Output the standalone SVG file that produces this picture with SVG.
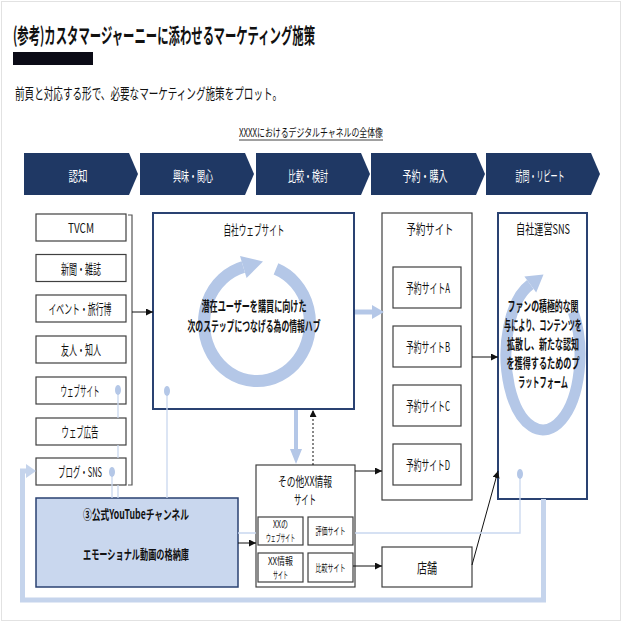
<svg xmlns="http://www.w3.org/2000/svg" width="623" height="623" viewBox="0 0 623 623">
<defs>
<style>
.t{font-family:"Noto Sans CJK JP","Noto Sans",sans-serif;fill:#111;}
.c{text-anchor:middle;}
.b{font-weight:700;}
.w{fill:#fff;}
.chev{fill:#1f3864;}
.gbox{fill:#fff;stroke:#404040;stroke-width:1.2;}
.nbox{fill:#fff;stroke:#2a4272;stroke-width:2;}
.ring{fill:none;stroke:#b4c7e7;}
.lb{fill:#b4c7e7;}
.thin{fill:none;stroke:#c9d7ef;stroke-width:1.3;}
.ar{fill:none;stroke:#111;stroke-width:1;marker-end:url(#ah);}
.thick{fill:none;stroke:#c5d4ec;}
</style>
<marker id="ah" markerUnits="userSpaceOnUse" markerWidth="7" markerHeight="7" refX="7" refY="3.5" orient="auto">
<path d="M0,0 L7,3.5 L0,7 z" fill="#111"/>
</marker>
</defs>
<rect x="1.5" y="1.5" width="619" height="619" fill="#fff" stroke="#e2e2e2" stroke-width="1"/>

<g id="header">
<text class="t b" x="13" y="43" font-size="21" textLength="302" lengthAdjust="spacingAndGlyphs">(参考)カスタマージャーニーに添わせるマーケティング施策</text>
<rect x="13" y="52" width="80" height="13" fill="#0b0b16"/>
<text class="t" x="15" y="99" font-size="15" textLength="267" lengthAdjust="spacingAndGlyphs">前頁と対応する形で、必要なマーケティング施策をプロット。</text>
<text class="t" x="239" y="137" font-size="11.5" textLength="144" lengthAdjust="spacingAndGlyphs">XXXXにおけるデジタルチャネルの全体像</text>
<line x1="239" y1="140" x2="383" y2="140" stroke="#111" stroke-width="0.8"/>
</g>

<g id="stages">
<polygon class="chev" points="24,153 129,153 138,174 129,195 24,195"/>
<text class="t c w" x="78" y="181" font-size="13.5" textLength="19" lengthAdjust="spacingAndGlyphs">認知</text>
<polygon class="chev" points="140,153 245,153 254,174 245,195 140,195"/>
<text class="t c w" x="193" y="181" font-size="13.5" textLength="40" lengthAdjust="spacingAndGlyphs">興味・関心</text>
<polygon class="chev" points="256,153 361,153 370,174 361,195 256,195"/>
<text class="t c w" x="308" y="181" font-size="13.5" textLength="40" lengthAdjust="spacingAndGlyphs">比較・検討</text>
<polygon class="chev" points="371,153 476,153 485,174 476,195 371,195"/>
<text class="t c w" x="425" y="181" font-size="13.5" textLength="45" lengthAdjust="spacingAndGlyphs">予約・購入</text>
<polygon class="chev" points="486,153 591,153 600,174 591,195 486,195"/>
<text class="t c w" x="540" y="181" font-size="13.5" textLength="49" lengthAdjust="spacingAndGlyphs">訪問・リピート</text>
</g>

<g id="media">
<rect class="gbox" x="36" y="214" width="90" height="27"/>
<text class="t c" x="81" y="233" font-size="13.5" textLength="26" lengthAdjust="spacingAndGlyphs">TVCM</text>
<rect class="gbox" x="36" y="254.5" width="90" height="27"/>
<text class="t c" x="81" y="273.5" font-size="13.5" textLength="40" lengthAdjust="spacingAndGlyphs">新聞・雑誌</text>
<rect class="gbox" x="36" y="295" width="90" height="27"/>
<text class="t c" x="80" y="314" font-size="13.5" textLength="63" lengthAdjust="spacingAndGlyphs">イベント・旅行博</text>
<rect class="gbox" x="36" y="336" width="90" height="27"/>
<text class="t c" x="81" y="355" font-size="13.5" textLength="40" lengthAdjust="spacingAndGlyphs">友人・知人</text>
<rect class="gbox" x="36" y="377" width="90" height="27"/>
<text class="t c" x="80" y="396" font-size="13.5" textLength="39" lengthAdjust="spacingAndGlyphs">ウェブサイト</text>
<rect class="gbox" x="36" y="418" width="90" height="27"/>
<text class="t c" x="80" y="437" font-size="13.5" textLength="37" lengthAdjust="spacingAndGlyphs">ウェブ広告</text>
<rect class="gbox" x="36" y="458" width="90" height="27"/>
<text class="t c" x="80" y="477" font-size="13.5" textLength="44" lengthAdjust="spacingAndGlyphs">ブログ・SNS</text>
<path d="M128,215 H132 V485 H128" fill="none" stroke="#555" stroke-width="1.2"/>
</g>

<g id="own-website">
<rect class="nbox" x="153" y="213" width="201" height="196"/>
<text class="t c" x="254" y="235" font-size="13.5" textLength="61" lengthAdjust="spacingAndGlyphs">自社ウェブサイト</text>
<path class="ring" stroke-width="12" d="M276,268.9 A53,58 0 1 1 243.3,267"/>
<polygon class="lb" points="246.6,278 240,256 263,261.5"/>
<text class="t c b" x="254" y="311" font-size="13.5" textLength="105" lengthAdjust="spacingAndGlyphs">潜在ユーザーを購買に向けた</text>
<text class="t c b" x="254" y="331" font-size="13.5" textLength="133" lengthAdjust="spacingAndGlyphs">次のステップにつなげる為の情報ハブ</text>
</g>

<g id="booking">
<rect class="gbox" x="382" y="213" width="90" height="287"/>
<text class="t c" x="430" y="234" font-size="13.5" textLength="47" lengthAdjust="spacingAndGlyphs">予約サイト</text>
<rect class="gbox" x="393" y="267" width="68" height="41"/>
<text class="t c" x="428" y="293" font-size="13.5" textLength="44" lengthAdjust="spacingAndGlyphs">予約サイトA</text>
<rect class="gbox" x="393" y="326" width="68" height="41"/>
<text class="t c" x="428" y="352" font-size="13.5" textLength="44" lengthAdjust="spacingAndGlyphs">予約サイトB</text>
<rect class="gbox" x="393" y="385" width="68" height="41"/>
<text class="t c" x="428" y="411" font-size="13.5" textLength="44" lengthAdjust="spacingAndGlyphs">予約サイトC</text>
<rect class="gbox" x="393" y="444" width="68" height="41"/>
<text class="t c" x="428" y="470" font-size="13.5" textLength="44" lengthAdjust="spacingAndGlyphs">予約サイトD</text>
</g>

<g id="own-sns">
<rect class="nbox" x="498" y="213" width="89" height="286"/>
<text class="t c" x="543" y="234" font-size="13.5" textLength="54" lengthAdjust="spacingAndGlyphs">自社運営SNS</text>
<path class="ring" stroke-width="11" d="M573.3,312 A37,75 0 1 1 530.3,284.5"/>
<polygon class="lb" points="536.2,292.5 524.4,276.5 543.5,274.5"/>
<text class="t c b" x="543" y="311" font-size="13.5" textLength="71" lengthAdjust="spacingAndGlyphs">ファンの積極的な関</text>
<text class="t c b" x="543" y="330" font-size="13.5" textLength="78" lengthAdjust="spacingAndGlyphs">与により、コンテンツを</text>
<text class="t c b" x="543" y="349" font-size="13.5" textLength="72" lengthAdjust="spacingAndGlyphs">拡散し、新たな認知</text>
<text class="t c b" x="543" y="368" font-size="13.5" textLength="73" lengthAdjust="spacingAndGlyphs">を獲得するためのプ</text>
<text class="t c b" x="543" y="387" font-size="13.5" textLength="50" lengthAdjust="spacingAndGlyphs">ラットフォーム</text>
</g>

<g id="other-sites">
<rect class="gbox" x="256" y="465" width="99" height="122"/>
<text class="t c" x="305" y="486" font-size="13" textLength="54" lengthAdjust="spacingAndGlyphs">その他XX情報</text>
<text class="t c" x="305" y="504" font-size="13" textLength="22" lengthAdjust="spacingAndGlyphs">サイト</text>
<rect class="gbox" x="258" y="517" width="45" height="28"/>
<text class="t c" x="280.5" y="528" font-size="10" textLength="15" lengthAdjust="spacingAndGlyphs">XXの</text>
<text class="t c" x="280.5" y="541.5" font-size="10" textLength="29" lengthAdjust="spacingAndGlyphs">ウェブサイト</text>
<rect class="gbox" x="308" y="517" width="45" height="28"/>
<text class="t c" x="330.5" y="535" font-size="10" textLength="30" lengthAdjust="spacingAndGlyphs">評価サイト</text>
<rect class="gbox" x="258" y="553" width="45" height="29"/>
<text class="t c" x="280.5" y="565" font-size="10" textLength="25" lengthAdjust="spacingAndGlyphs">XX情報</text>
<text class="t c" x="280.5" y="578.5" font-size="10" textLength="15" lengthAdjust="spacingAndGlyphs">サイト</text>
<rect class="gbox" x="308" y="553" width="45" height="29"/>
<text class="t c" x="330.5" y="571.5" font-size="10" textLength="30" lengthAdjust="spacingAndGlyphs">比較サイト</text>
</g>

<g id="store">
<rect class="gbox" x="382" y="547" width="90" height="40"/>
<text class="t c" x="427" y="573" font-size="13.5" textLength="20" lengthAdjust="spacingAndGlyphs">店舗</text>
</g>

<g id="youtube">
<rect x="36" y="498" width="202" height="89" fill="#c9d7ee" stroke="#2a4272" stroke-width="1.5"/>
<text class="t c b" x="136" y="519" font-size="13" textLength="106" lengthAdjust="spacingAndGlyphs">③公式YouTubeチャンネル</text>
<text class="t c b" x="136" y="559" font-size="13" textLength="106" lengthAdjust="spacingAndGlyphs">エモーショナル動画の格納庫</text>
</g>

<g id="connectors">
<line class="ar" x1="132" y1="312" x2="153" y2="312"/>
<line x1="355" y1="312" x2="373" y2="312" stroke="#b4c7e7" stroke-width="5"/>
<polygon class="lb" points="372,305 384,312 372,319"/>
<line x1="296" y1="410" x2="296" y2="450" stroke="#b4c7e7" stroke-width="4"/>
<polygon class="lb" points="290,449 302,449 296,464"/>
<line class="ar" x1="313" y1="465" x2="313" y2="410" stroke-dasharray="2,2"/>
<line class="ar" x1="472" y1="357" x2="498" y2="357"/>
<line class="ar" x1="355" y1="471" x2="382" y2="471"/>
<line class="ar" x1="353" y1="566" x2="382" y2="566"/>
<line class="ar" x1="238" y1="543" x2="256" y2="543"/>
<line class="ar" x1="472" y1="565" x2="498" y2="471"/>
<polyline class="thick" stroke-width="5" points="543.5,499 543.5,600 22.5,600 22.5,471 28,471"/>
<polygon fill="#c5d4ec" points="26,464 36,471 26,478"/>
<path class="thin" d="M118,390 V418 M118,445 V458 M118,485 V498"/>
<path class="thin" d="M112,472 V498"/>
<path class="thin" d="M167,392 V498"/>
<path class="thin" d="M520,474 V533 H355 M256,533 H238"/>
<ellipse class="lb" cx="118" cy="390" rx="3" ry="5"/>
<ellipse class="lb" cx="112" cy="472" rx="3" ry="5"/>
<ellipse class="lb" cx="167" cy="391" rx="3" ry="5"/>
<ellipse class="lb" cx="520" cy="474" rx="3" ry="5"/>
</g>
</svg>
